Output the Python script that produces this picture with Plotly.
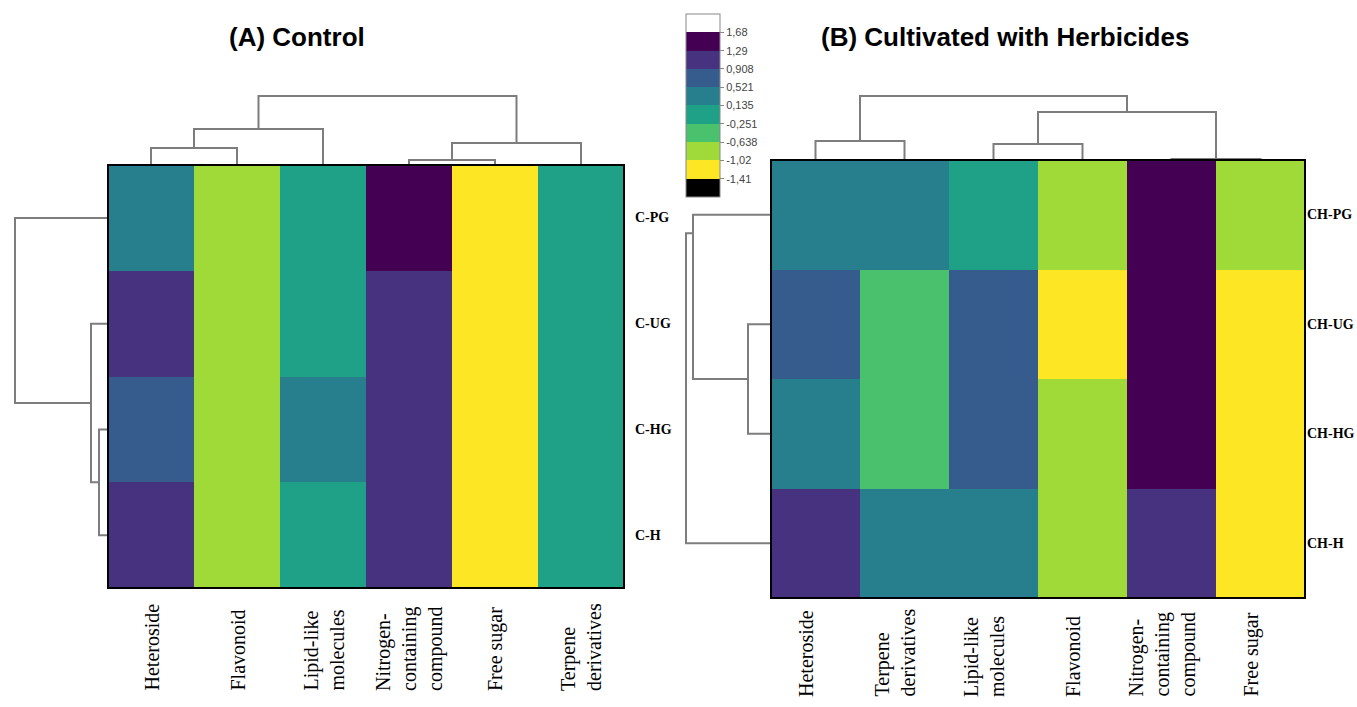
import plotly.graph_objects as go

W, H = 1357, 707

# ---------------- data ----------------
rows_a = ["C-PG", "C-UG", "C-HG", "C-H"]
cols_a = ["Heteroside", "Flavonoid", "Lipid-like\nmolecules",
          "Nitrogen-\ncontaining\ncompound", "Free sugar", "Terpene\nderivatives"]
z_a = [
    [0.35, -0.85, -0.05, 1.45, -1.25, -0.10],
    [1.05, -0.80, -0.08, 1.10, -1.22, -0.06],
    [0.72, -0.82, 0.30, 1.08, -1.24, -0.12],
    [1.02, -0.86, -0.02, 1.12, -1.20, -0.04],
]

rows_b = ["CH-PG", "CH-UG", "CH-HG", "CH-H"]
cols_b = ["Heteroside", "Terpene\nderivatives", "Lipid-like\nmolecules", "Flavonoid",
          "Nitrogen-\ncontaining\ncompound", "Free sugar"]
z_b = [
    [0.30, 0.25, 0.05, -0.80, 1.50, -0.85],
    [0.70, -0.45, 0.65, -1.20, 1.45, -1.25],
    [0.35, -0.40, 0.70, -0.90, 1.40, -1.20],
    [1.05, 0.30, 0.28, -0.75, 1.00, -1.30],
]

# cluster merges: (child, child, distance); leaves are 0..n-1, new nodes n, n+1, ...
col_tree_a = [(3, 4, 0.5), (0, 1, 1.7), (6, 5, 2.2), (7, 2, 3.6), (9, 8, 6.9)]
row_tree_a = [(2, 3, 0.9), (1, 4, 1.7), (0, 5, 9.3)]
col_tree_b = [(4, 5, 0.1), (2, 3, 1.6), (0, 1, 1.9), (7, 6, 4.8), (8, 9, 6.4)]
row_tree_b = [(1, 2, 2.3), (0, 4, 7.8), (5, 3, 8.5)]

# colour key
cbar_ticks = [-1.41, -1.02, -0.638, -0.251, 0.135, 0.521, 0.908, 1.29, 1.68]
cbar_text = ["-1,41", "-1,02", "-0,638", "-0,251", "0,135", "0,521", "0,908", "1,29", "1,68"]
band_colors = ["#000000", "#fde725", "#a0da39", "#4ac16d", "#1fa187",
               "#277f8e", "#365c8d", "#46327e", "#440154", "#ffffff"]

# ---------------- helpers ----------------
def px_x(p):
    return p / W


def px_y(p):
    return 1 - p / H


step = (cbar_ticks[-1] - cbar_ticks[0]) / (len(cbar_ticks) - 1)
cmin = cbar_ticks[0] - step
cmax = cbar_ticks[-1] + step
nb = len(band_colors)
colorscale = []
for k, c in enumerate(band_colors):
    colorscale.append([k / nb, c])
    colorscale.append([(k + 1) / nb, c])


def dendro_segments(tree, n_leaves, orient, pos_override=None):
    """Return x/y lists for a dendrogram. orient 'top': x=position, y=height.
    orient 'left': x=height, y=position."""
    pos = {i: float(i) for i in range(n_leaves)}
    hgt = {i: 0.0 for i in range(n_leaves)}
    xs, ys = [], []
    for k, (a, b, d) in enumerate(tree):
        node = n_leaves + k
        pa, pb = pos[a], pos[b]
        ha, hb = hgt[a], hgt[b]
        P = [pa, pa, pb, pb]
        Hh = [ha, d, d, hb]
        if orient == "top":
            xs += P + [None]
            ys += Hh + [None]
        else:
            xs += Hh + [None]
            ys += P + [None]
        pos[node] = (pa + pb) / 2
        if pos_override and node in pos_override:
            pos[node] = pos_override[node]
        hgt[node] = d
    return xs, ys


fig = go.Figure()

line_style = dict(color="#7d7d7d", width=2)

panels = [
    # heatmap box (px): left, right, top, bottom
    dict(rows=rows_a, cols=cols_a, z=z_a, box=(108, 624, 165, 588),
         col_tree=col_tree_a, row_tree=row_tree_a, row_override=None,
         ax=("x", "y"), top=("x3", "y3"), left=("x4", "y4"),
         label_shift=0, label_bottom=693, row_label_x=633),
    dict(rows=rows_b, cols=cols_b, z=z_b, box=(771, 1305, 160, 598),
         col_tree=col_tree_b, row_tree=row_tree_b, row_override={5: 0.17},
         ax=("x2", "y2"), top=("x5", "y5"), left=("x6", "y6"),
         label_shift=-10, label_bottom=699, row_label_x=1305),
]

layout_axes = {}
annotations = []
shapes = []


def axname(ref, kind):
    suffix = ref[1:]
    return f"{kind}axis{suffix}"


for i, p in enumerate(panels):
    L, R, T, B = p["box"]
    nr, nc = len(p["rows"]), len(p["cols"])
    xa, ya = p["ax"]
    fig.add_trace(go.Heatmap(
        z=p["z"], x=list(range(nc)), y=list(range(nr)),
        coloraxis="coloraxis", xaxis=xa, yaxis=ya,
        xgap=0, ygap=0, hoverinfo="skip",
    ))
    hidden = dict(visible=False, showgrid=False, zeroline=False, fixedrange=True)
    layout_axes[axname(xa, "x")] = dict(hidden, domain=[px_x(L), px_x(R)], range=[-0.5, nc - 0.5], anchor=ya)
    layout_axes[axname(ya, "y")] = dict(hidden, domain=[px_y(B), px_y(T)], range=[nr - 0.5, -0.5], anchor=xa)

    # column dendrogram above the heatmap (10 px per distance unit)
    tx, ty = p["top"]
    xs, ys = dendro_segments(p["col_tree"], nc, "top")
    fig.add_trace(go.Scatter(x=xs, y=ys, mode="lines", line=line_style,
                             xaxis=tx, yaxis=ty, hoverinfo="skip", showlegend=False))
    layout_axes[axname(tx, "x")] = dict(hidden, domain=[px_x(L), px_x(R)], range=[-0.5, nc - 0.5], anchor=ty)
    layout_axes[axname(ty, "y")] = dict(hidden, domain=[px_y(T), px_y(T - 80)], range=[0, 8], anchor=tx)

    # row dendrogram left of the heatmap
    lx, ly = p["left"]
    xs, ys = dendro_segments(p["row_tree"], nr, "left", p["row_override"])
    fig.add_trace(go.Scatter(x=xs, y=ys, mode="lines", line=line_style,
                             xaxis=lx, yaxis=ly, hoverinfo="skip", showlegend=False))
    layout_axes[axname(lx, "x")] = dict(hidden, domain=[px_x(L - 100), px_x(L)], range=[10, 0], anchor=ly)
    layout_axes[axname(ly, "y")] = dict(hidden, domain=[px_y(B), px_y(T)], range=[nr - 0.5, -0.5], anchor=lx)

    # border
    shapes.append(dict(type="rect", xref=f"{xa} domain", yref=f"{ya} domain",
                       x0=0, x1=1, y0=0, y1=1, line=dict(color="black", width=2),
                       layer="above"))

    # column labels, rotated
    for j, lab in enumerate(p["cols"]):
        annotations.append(dict(
            text=lab.replace("\n", "<br>"), xref=xa, x=j, yref="paper",
            y=px_y(p["label_bottom"]), xanchor="center", yanchor="bottom",
            textangle=-90, align="left", showarrow=False, xshift=p["label_shift"],
            font=dict(family="Liberation Serif", size=20, color="black")))

    # row labels
    for r, lab in enumerate(p["rows"]):
        annotations.append(dict(
            text=f"<b>{lab}</b>", xref="paper", x=px_x(p["row_label_x"]), yref=ya, y=r,
            xanchor="left", yanchor="middle", showarrow=False,
            font=dict(family="Liberation Serif", size=14, color="black")))

# titles
for txt, cx in [("(A) Control", 297), ("(B) Cultivated with Herbicides", 1005)]:
    annotations.append(dict(
        text=f"<b>{txt}</b>", xref="paper", yref="paper", x=px_x(cx), y=px_y(37),
        xanchor="center", yanchor="middle", showarrow=False,
        font=dict(family="Liberation Sans", size=26, color="black")))

fig.update_layout(
    width=W, height=H,
    margin=dict(l=0, r=0, t=0, b=0),
    paper_bgcolor="white", plot_bgcolor="white",
    showlegend=False,
    coloraxis=dict(
        colorscale=colorscale, cmin=cmin, cmax=cmax,
        colorbar=dict(
            x=px_x(686), xanchor="left", xpad=0,
            y=px_y(14), yanchor="top", ypad=0,
            len=183, lenmode="pixels", thickness=34, thicknessmode="pixels",
            tickvals=cbar_ticks, ticktext=cbar_text,
            ticks="outside", ticklen=4, tickcolor="#888888",
            outlinecolor="#888888", outlinewidth=1,
            tickfont=dict(family="Liberation Sans", size=11, color="#444444"),
        ),
    ),
    annotations=annotations,
    shapes=shapes,
    **layout_axes,
)

fig.write_html("out.html")
